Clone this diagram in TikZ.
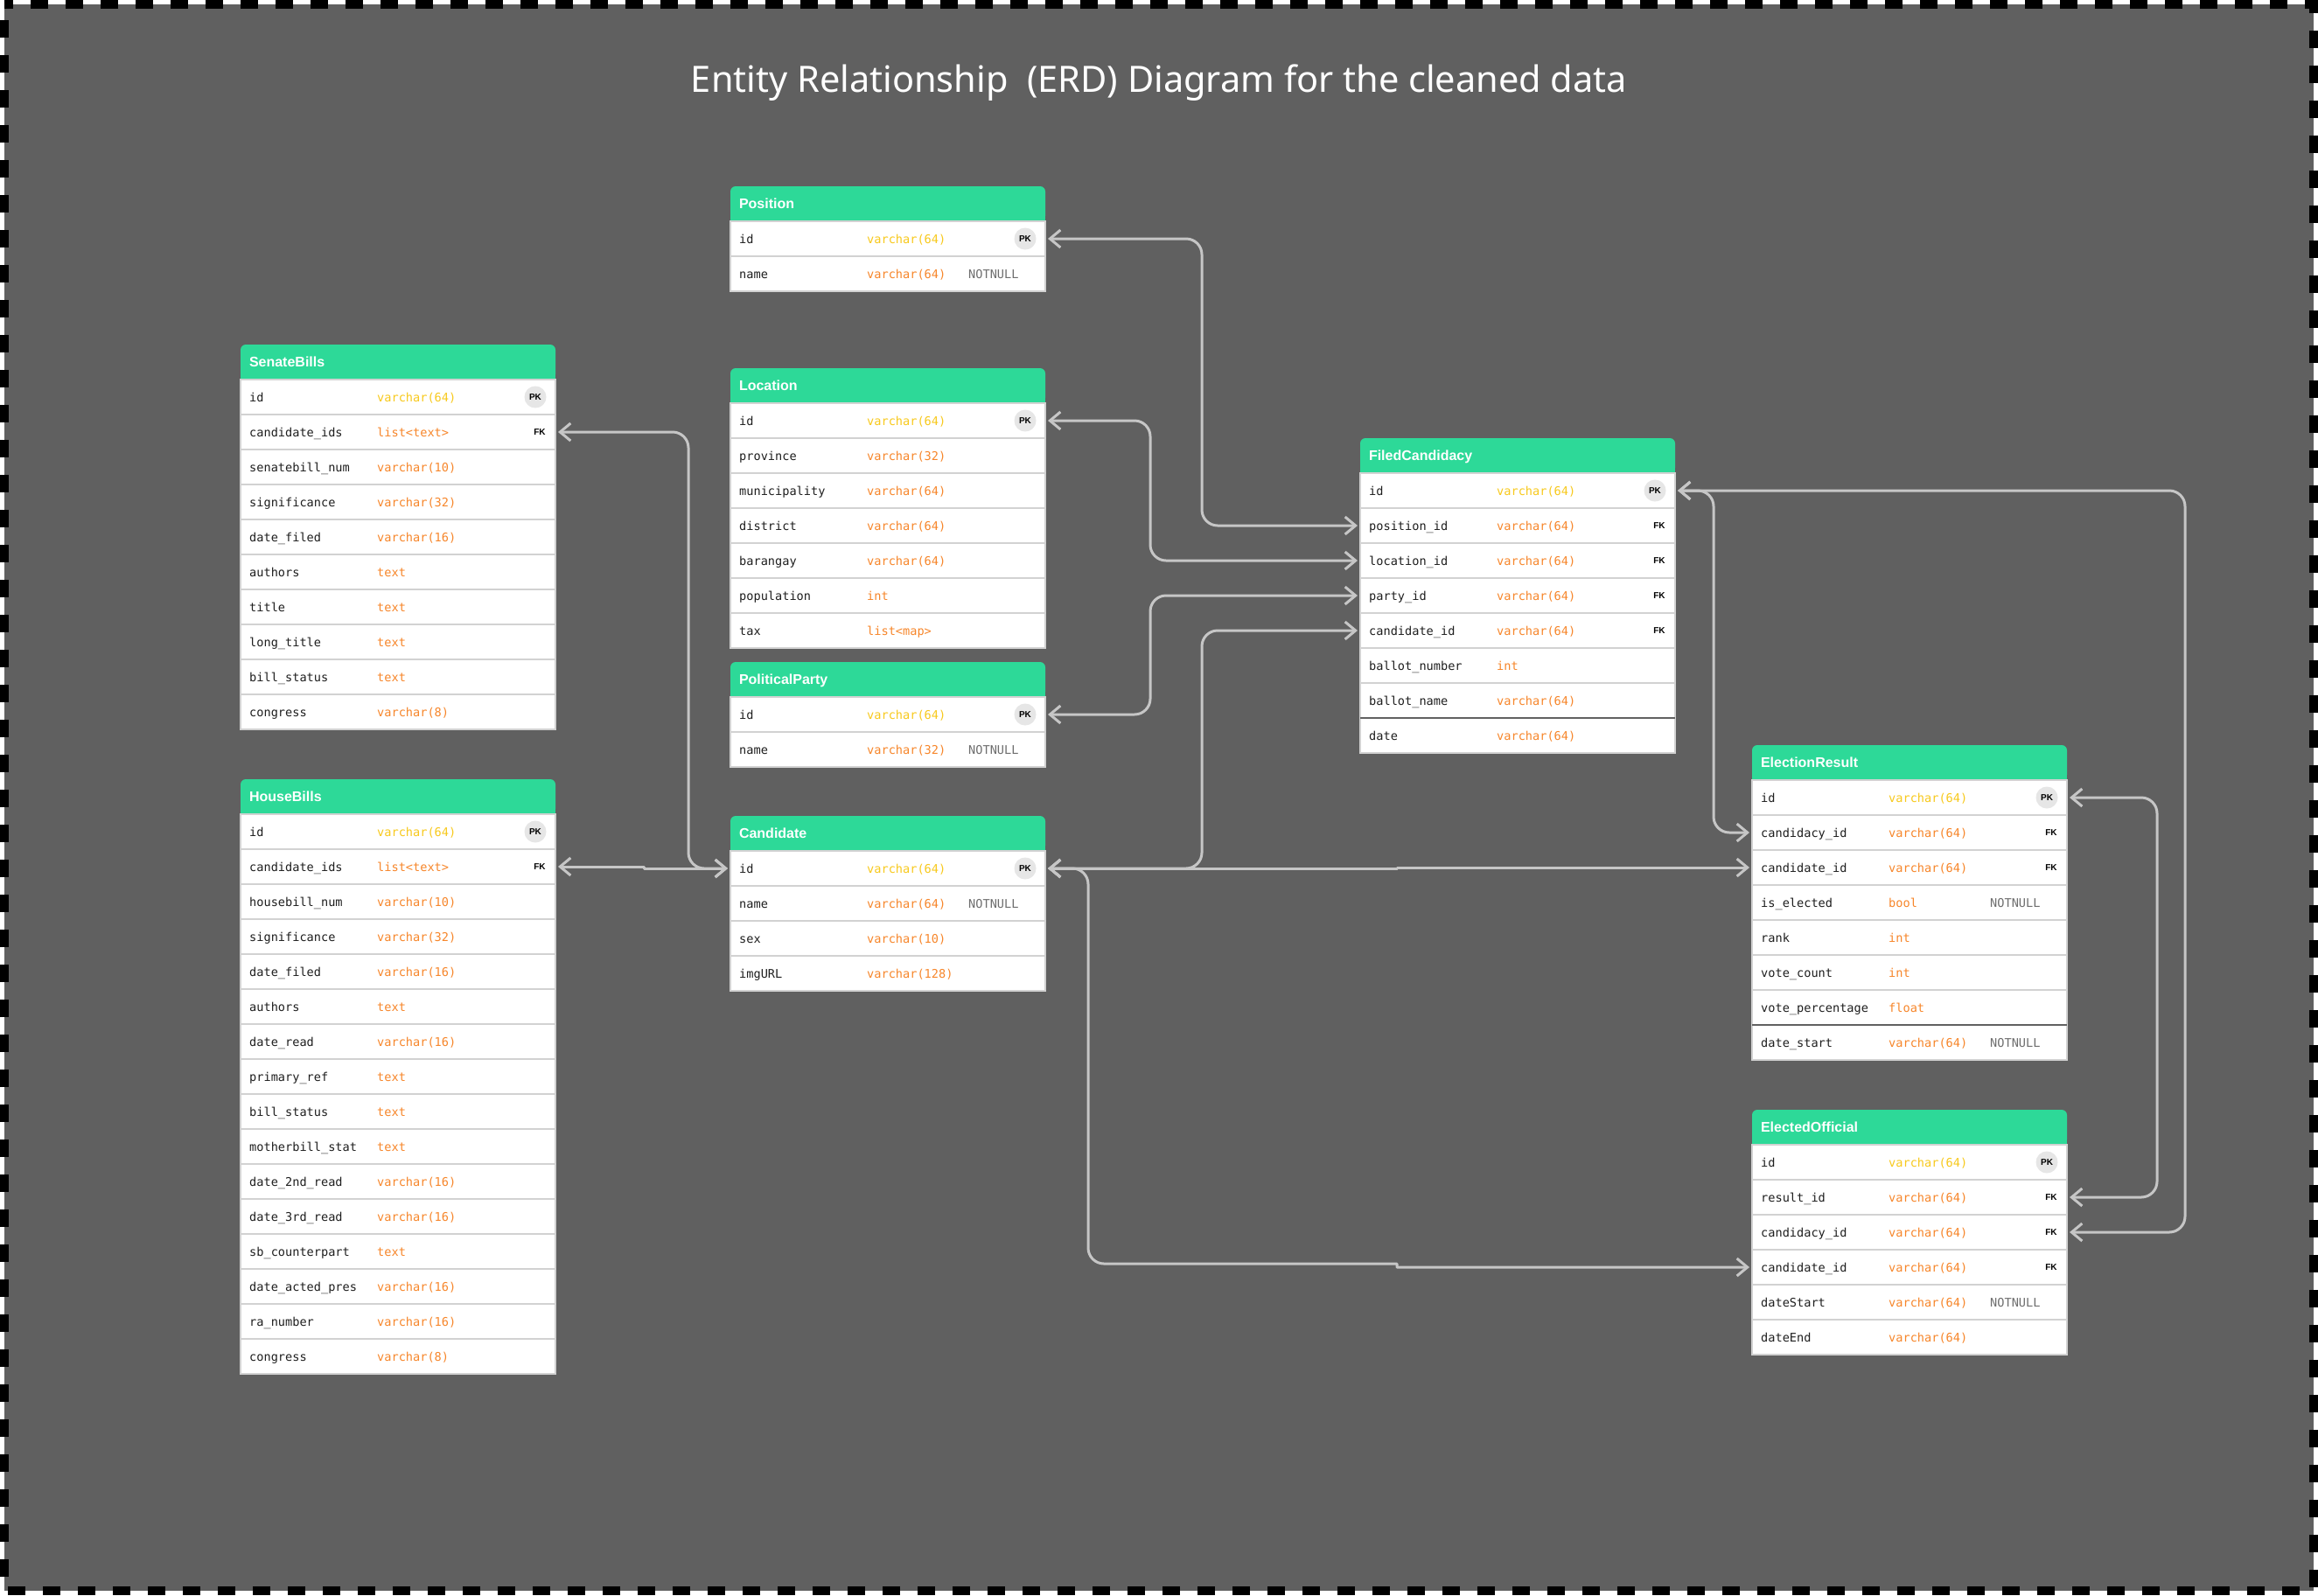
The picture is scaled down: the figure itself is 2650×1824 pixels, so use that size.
\documentclass[tikz,border=0pt]{standalone}
\usepackage{fontspec}
\setmainfont{Noto Sans}
\newfontfamily\titlefont{Noto Sans}
\newfontfamily\headfont{Liberation Sans}
\newfontfamily\codefont{DejaVu Sans Mono}
\usepackage{xcolor}
\usepackage{tikz}
\usetikzlibrary{arrows.meta,positioning}

\definecolor{canvas}{HTML}{606060}
\definecolor{headgreen}{HTML}{2DD998}
\definecolor{pkyellow}{HTML}{F8C91C}
\definecolor{typeorange}{HTML}{F7862A}
\definecolor{nngray}{HTML}{6E6E6E}
\definecolor{rowline}{HTML}{D2D2D2}
\definecolor{linkgray}{HTML}{C6C6C6}
\definecolor{badgegray}{HTML}{E6E6E6}

\newcommand{\erdtable}[4]{%
  \fill[headgreen,rounded corners=6pt] (#2) rectangle +(360,40);
  \fill[headgreen] (#2) ++(0,20) rectangle +(360,20);
  \node[header,anchor=north west] (#1) at (#2) {#3};
  \foreach \fname/\ftyp/\fkey [count=\i] in {#4}{
    \pgfmathtruncatemacro\j{\i-1}
    \ifnum\i=1 \edef\prev{#1}\else\edef\prev{#1-\j}\fi
    \node[row,below=0pt of \prev] (#1-\i) {};
    \node[field] at ([xshift=10pt,yshift=-5.5pt]#1-\i.west) {\fname};
    \node[ftype \fkey] at ([xshift=156pt,yshift=-5.5pt]#1-\i.west) {\ftyp};
    \node[flag \fkey,at={([xshift=-23pt]#1-\i.east)}];
  }
}

\begin{document}
\begin{tikzpicture}[x=1pt,y=-1pt]
  \tikzstyle{header}=[text width=340pt,inner xsep=10pt,inner ysep=0pt,minimum height=40pt,outer sep=0pt,
    align=left,text=white,text height=11.5pt,text depth=0pt,font=\headfont\fontsize{16}{18}\selectfont\bfseries]
  \tikzstyle{row}=[draw=rowline,line width=1.5pt,fill=white,minimum width=360pt,minimum height=40pt,
    inner sep=0pt,outer sep=0pt]
  \tikzstyle{code}=[anchor=base west,inner sep=0pt,font=\codefont\fontsize{13.6}{16}\selectfont]
  \tikzstyle{field}=[code,text=black!88]
  \tikzstyle{ftype PK}=[code,text=pkyellow]
  \tikzstyle{ftype FK}=[code,text=typeorange]
  \tikzstyle{ftype NN}=[code,text=typeorange]
  \tikzstyle{ftype X}=[code,text=typeorange]
  \tikzstyle{flag PK}=[circle,fill=badgegray,minimum size=25pt,inner sep=0pt,
    font=\headfont\fontsize{10}{11}\selectfont\bfseries,node contents={PK}]
  \tikzstyle{flag FK}=[inner sep=0pt,xshift=5pt,font=\headfont\fontsize{10}{11}\selectfont\bfseries,node contents={FK}]
  \tikzstyle{flag NN}=[code,xshift=-65pt,yshift=-5.5pt,text=nngray,node contents={NOTNULL}]
  \tikzstyle{flag X}=[inner sep=0pt,node contents={}]
  \tikzstyle{darksep}=[draw=black!62,line width=2pt]
  \tikzstyle{link}=[<->,>={Straight Barb[length=12pt,width=20pt]},draw=linkgray,line width=3pt,
    rounded corners=18pt,shorten <=3pt,shorten >=3pt,line cap=round,line join=round]

  \useasboundingbox (0,0) rectangle (2650,1824);
  \fill[white] (0,0) rectangle (2650,1824);
  \fill[canvas] (5,5) rectangle (2645,1819);
  \draw[line width=10pt,dash pattern=on 20pt off 20pt,dash phase=10pt]
    (5,5) -- (2645,5) -- (2645,1819) -- (5,1819) -- cycle;

  \node[anchor=base,text=white,font=\titlefont\fontsize{41.5}{44}\selectfont] (title) at (1325,105)
    {Entity Relationship~ (ERD) Diagram for the cleaned data};

  \erdtable{Position}{835,213}{Position}{id/varchar(64)/PK,
    name/varchar(64)/NN}
  \erdtable{Location}{835,421}{Location}{id/varchar(64)/PK,
    province/varchar(32)/X,
    municipality/varchar(64)/X,
    district/varchar(64)/X,
    barangay/varchar(64)/X,
    population/int/X,
    tax/list<map>/X}
  \erdtable{PoliticalParty}{835,757}{PoliticalParty}{id/varchar(64)/PK,
    name/varchar(32)/NN}
  \erdtable{Candidate}{835,933}{Candidate}{id/varchar(64)/PK,
    name/varchar(64)/NN,
    sex/varchar(10)/X,
    imgURL/varchar(128)/X}
  \erdtable{SenateBills}{275,394}{SenateBills}{id/varchar(64)/PK,
    candidate\_ids/list<text>/FK,
    senatebill\_num/varchar(10)/X,
    significance/varchar(32)/X,
    date\_filed/varchar(16)/X,
    authors/text/X,
    title/text/X,
    long\_title/text/X,
    bill\_status/text/X,
    congress/varchar(8)/X}
  \erdtable{HouseBills}{275,891}{HouseBills}{id/varchar(64)/PK,
    candidate\_ids/list<text>/FK,
    housebill\_num/varchar(10)/X,
    significance/varchar(32)/X,
    date\_filed/varchar(16)/X,
    authors/text/X,
    date\_read/varchar(16)/X,
    primary\_ref/text/X,
    bill\_status/text/X,
    motherbill\_stat/text/X,
    date\_2nd\_read/varchar(16)/X,
    date\_3rd\_read/varchar(16)/X,
    sb\_counterpart/text/X,
    date\_acted\_pres/varchar(16)/X,
    ra\_number/varchar(16)/X,
    congress/varchar(8)/X}
  \erdtable{FiledCandidacy}{1555,501}{FiledCandidacy}{id/varchar(64)/PK,
    position\_id/varchar(64)/FK,
    location\_id/varchar(64)/FK,
    party\_id/varchar(64)/FK,
    candidate\_id/varchar(64)/FK,
    ballot\_number/int/X,
    ballot\_name/varchar(64)/X,
    date/varchar(64)/X}
  \erdtable{ElectionResult}{2003,852}{ElectionResult}{id/varchar(64)/PK,
    candidacy\_id/varchar(64)/FK,
    candidate\_id/varchar(64)/FK,
    is\_elected/bool/NN,
    rank/int/X,
    vote\_count/int/X,
    vote\_percentage/float/X,
    date\_start/varchar(64)/NN}
  \erdtable{ElectedOfficial}{2003,1269}{ElectedOfficial}{id/varchar(64)/PK,
    result\_id/varchar(64)/FK,
    candidacy\_id/varchar(64)/FK,
    candidate\_id/varchar(64)/FK,
    dateStart/varchar(64)/NN,
    dateEnd/varchar(64)/X}

  \draw[darksep] (FiledCandidacy-8.north west) -- (FiledCandidacy-8.north east);
  \draw[darksep] (ElectionResult-8.north west) -- (ElectionResult-8.north east);

  \draw[link] (Position-1.east) -- ++(179,0) |- (FiledCandidacy-2.west);
  \draw[link] (Location-1.east) -- ++(120,0) |- (FiledCandidacy-3.west);
  \draw[link] (PoliticalParty-1.east) -- ++(120,0) |- (FiledCandidacy-4.west);
  \draw[link] (Candidate-1.east) -- ++(179,0) |- (FiledCandidacy-5.west);
  \draw[link] (SenateBills-2.east) -- ++(152,0) |- (Candidate-1.west);
  \draw[link,sharp corners] (HouseBills-2.east) -- ++(101,0) |- (Candidate-1.west);
  \draw[link,sharp corners] (Candidate-1.east) -- ++(402,0) |- (ElectionResult-3.west);
  \draw[link] (Candidate-1.east) -- ++(49,0) -- ++(0,452) [sharp corners] -- ++(353,0) |- (ElectedOfficial-4.west);
  \draw[link] (FiledCandidacy-1.east) -- ++(44,0) |- (ElectionResult-2.west);
  \draw[link] (FiledCandidacy-1.east) -- ++(583,0) |- (ElectedOfficial-3.east);
  \draw[link] (ElectionResult-1.east) -- ++(103,0) |- (ElectedOfficial-2.east);
\end{tikzpicture}
\end{document}
